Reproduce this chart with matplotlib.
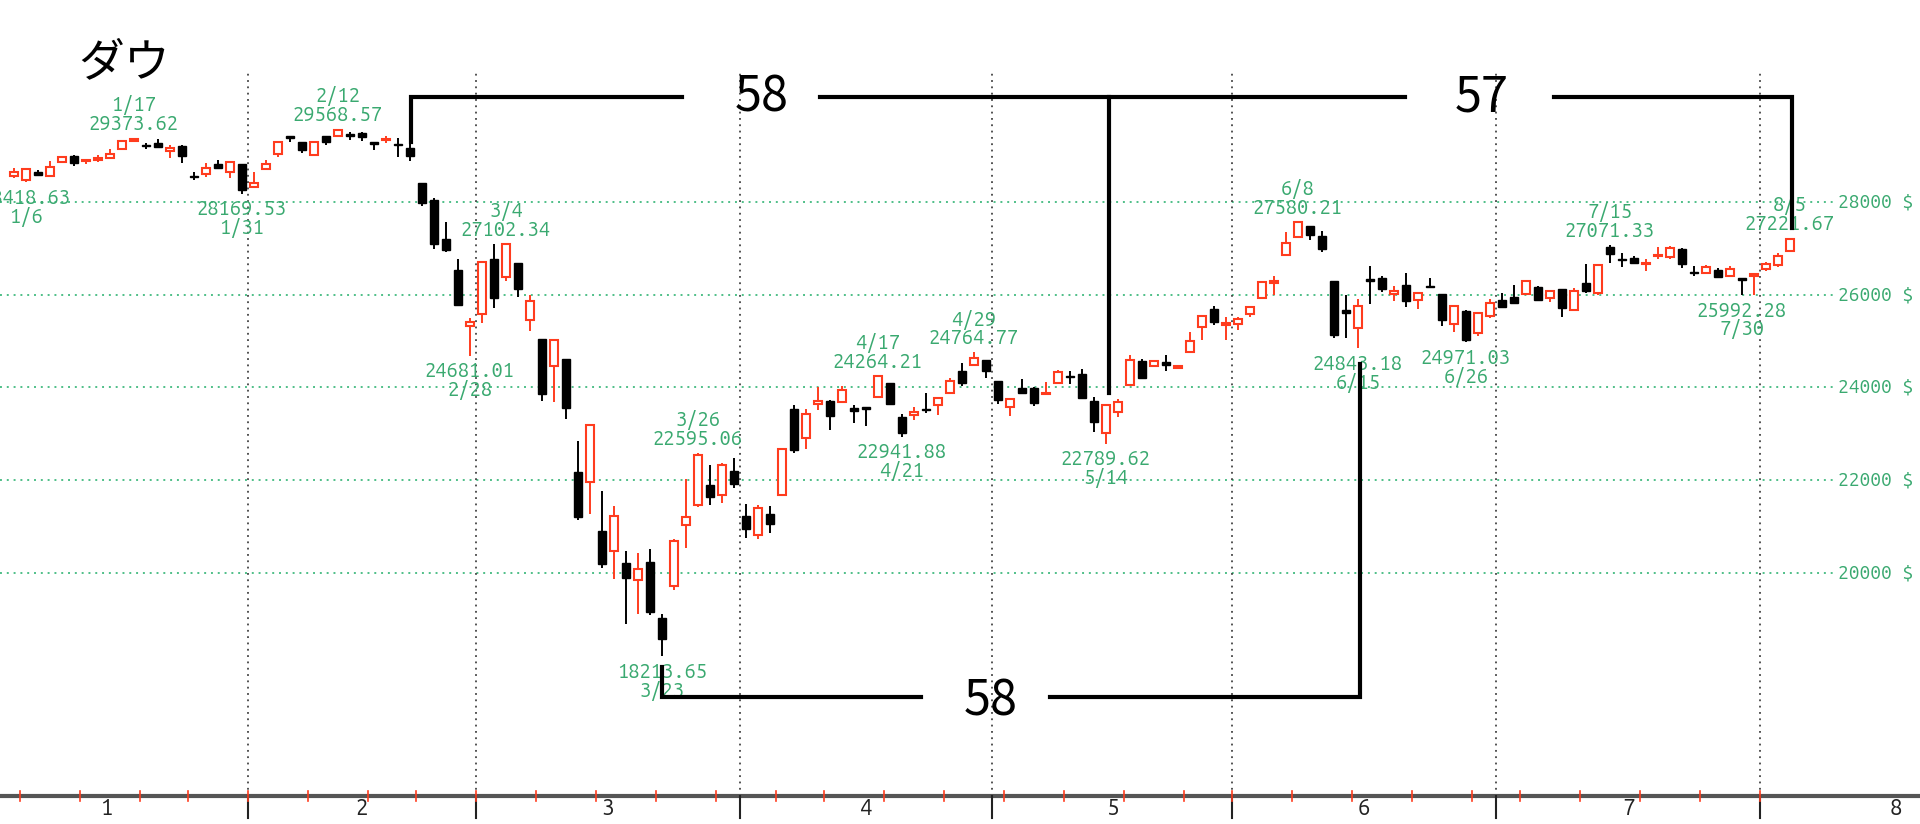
import datetime
import matplotlib
matplotlib.use('Agg')
import matplotlib.pyplot as plt
from matplotlib import font_manager

YEAR = 2020
# ---------------- data ----------------
dates = ['1/3', '1/6', '1/7', '1/8', '1/9', '1/10', '1/13', '1/14', '1/15', '1/16', '1/17', '1/21', '1/22', '1/23', '1/24', '1/27', '1/28', '1/29', '1/30', '1/31',
         '2/3', '2/4', '2/5', '2/6', '2/7', '2/10', '2/11', '2/12', '2/13', '2/14', '2/18', '2/19', '2/20', '2/21', '2/24', '2/25', '2/26', '2/27', '2/28',
         '3/2', '3/3', '3/4', '3/5', '3/6', '3/9', '3/10', '3/11', '3/12', '3/13', '3/16', '3/17', '3/18', '3/19', '3/20', '3/23', '3/24', '3/25', '3/26', '3/27', '3/30', '3/31',
         '4/1', '4/2', '4/3', '4/6', '4/7', '4/8', '4/9', '4/13', '4/14', '4/15', '4/16', '4/17', '4/20', '4/21', '4/22', '4/23', '4/24', '4/27', '4/28', '4/29', '4/30',
         '5/1', '5/4', '5/5', '5/6', '5/7', '5/8', '5/11', '5/12', '5/13', '5/14', '5/15', '5/18', '5/19', '5/20', '5/21', '5/22', '5/26', '5/27', '5/28', '5/29',
         '6/1', '6/2', '6/3', '6/4', '6/5', '6/8', '6/9', '6/10', '6/11', '6/12', '6/15', '6/16', '6/17', '6/18', '6/19', '6/22', '6/23', '6/24', '6/25', '6/26', '6/29', '6/30',
         '7/1', '7/2', '7/6', '7/7', '7/8', '7/9', '7/10', '7/13', '7/14', '7/15', '7/16', '7/17', '7/20', '7/21', '7/22', '7/23', '7/24', '7/27', '7/28', '7/29', '7/30', '7/31',
         '8/3', '8/4', '8/5']

opens = [28553, 28465, 28639, 28556, 28851, 28977, 28867, 28893, 28935, 29131, 29313, 29230, 29263, 29101, 29201, 28542, 28594, 28820, 28640, 28813,
         28319, 28697, 29020, 29385, 29286, 29007, 29414, 29405, 29465, 29470, 29282, 29320, 29251, 29146, 28403, 28041, 27188, 26539, 25320,
         25590, 26762, 26383, 26671, 25457, 25046, 24453, 24604, 22184, 21973, 20917, 20477, 20229, 19860, 20253, 19028, 19722, 21050, 21468, 21898, 21678, 22208,
         21227, 20819, 21285, 21693, 23534, 22907, 23640, 23717, 23686, 23560, 23580, 23796, 24094, 23370, 23410, 23545, 23620, 23883, 24362, 24485, 24592,
         24147, 23587, 23980, 23983, 23850, 24104, 24250, 24291, 23716, 23027, 23466, 24050, 24579, 24463, 24555, 24420, 24773, 25310, 25690, 25340,
         25370, 25580, 25921, 26250, 26853, 27234, 27476, 27262, 26300, 25659, 25275, 26330, 26352, 26007, 26207, 25884, 26171, 26013, 25367, 25654, 25167, 25539,
         25884, 25955, 26013, 26171, 25934, 26114, 25669, 26243, 26028, 27019, 26760, 26782, 26665, 26830, 26816, 26976, 26494, 26459, 26530, 26401, 26352, 26410,
         26545, 26638, 26946]
highs = [28716, 28708, 28685, 28866, 28988, 29009, 28910, 28997, 29127, 29300, 29374, 29256, 29346, 29218, 29218, 28630, 28825, 28892, 28879, 28813,
         28630, 28897, 29304, 29409, 29286, 29277, 29415, 29569, 29500, 29505, 29283, 29409, 29370, 29280, 28403, 28076, 27555, 26760, 25494,
         26706, 27084, 27102, 26671, 25994, 25047, 25020, 24604, 22837, 23189, 21779, 21443, 20489, 20440, 20531, 19121, 20737, 22019, 22595, 22327, 22378, 22480,
         21490, 21477, 21447, 22702, 23623, 23531, 24008, 23740, 24030, 23620, 23590, 24264, 24094, 23420, 23570, 23887, 23794, 24214, 24533, 24765, 24600,
         24147, 23760, 24180, 24020, 24110, 24371, 24362, 24392, 23800, 23627, 23746, 24700, 24605, 24600, 24700, 24480, 25199, 25560, 25755, 25525,
         25520, 25750, 26300, 26400, 27338, 27580, 27476, 27376, 26300, 25992, 25900, 26616, 26400, 26180, 26472, 26050, 26350, 26020, 25770, 25670, 25620, 25904,
         26028, 26207, 26300, 26180, 26080, 26130, 26136, 26659, 26668, 27071, 26890, 26830, 26760, 27032, 27047, 27000, 26616, 26640, 26580, 26620, 26360, 26450,
         26709, 26890, 27222]
lows = [28500, 28419, 28565, 28522, 28844, 28772, 28808, 28865, 28935, 29131, 29289, 29134, 29186, 28945, 28843, 28460, 28540, 28706, 28502, 28170,
        28319, 28697, 28966, 29287, 29056, 28985, 29222, 29405, 29320, 29304, 29116, 29264, 28968, 28880, 27912, 26978, 26915, 25766, 24681,
        25391, 25706, 26288, 25943, 25226, 23706, 23690, 23328, 21154, 21285, 20116, 19882, 18917, 19122, 19094, 18214, 19649, 20538, 21427, 21469, 21522, 21843,
        20766, 20735, 20863, 21693, 22600, 22670, 23516, 23095, 23678, 23229, 23180, 23796, 23630, 22942, 23300, 23456, 23408, 23857, 24033, 24460, 24198,
        23645, 23390, 23850, 23600, 23840, 24100, 24075, 23760, 23049, 22790, 23361, 24050, 24190, 24463, 24362, 24400, 24773, 25020, 25350, 25023,
        25230, 25520, 25900, 26000, 26853, 27234, 27175, 26924, 25060, 25059, 24843, 25798, 26050, 25860, 25740, 25700, 26150, 25320, 25202, 24971, 25100, 25500,
        25720, 25810, 26000, 25880, 25850, 25524, 25660, 26041, 26000, 26687, 26588, 26650, 26515, 26760, 26767, 26580, 26402, 26450, 26370, 26390, 25992, 26000,
        26515, 26588, 26930]
closes = [28635, 28703, 28584, 28745, 28957, 28824, 28907, 28940, 29030, 29298, 29348, 29196, 29186, 29160, 28990, 28536, 28723, 28734, 28859, 28256,
          28400, 28808, 29291, 29380, 29103, 29277, 29276, 29551, 29423, 29398, 29232, 29348, 29220, 28992, 27961, 27081, 26958, 25767, 25409,
          26703, 25917, 27091, 26121, 25865, 23851, 25018, 23553, 21201, 23186, 20189, 21237, 19899, 20087, 19174, 18592, 20705, 21201, 22552, 21637, 22327, 21917,
          20944, 21413, 21053, 22680, 22654, 23434, 23719, 23391, 23950, 23504, 23538, 24242, 23650, 23019, 23476, 23515, 23775, 24134, 24102, 24634, 24346,
          23724, 23750, 23883, 23665, 23876, 24331, 24222, 23765, 23248, 23625, 23685, 24597, 24207, 24576, 24474, 24465, 24995, 25548, 25401, 25383,
          25475, 25743, 26270, 26282, 27111, 27572, 27272, 26990, 25128, 25606, 25763, 26290, 26120, 26080, 25871, 26025, 26156, 25446, 25746, 25016, 25596, 25813,
          25735, 25827, 26287, 25890, 26067, 25706, 26075, 26086, 26643, 26870, 26735, 26672, 26681, 26840, 27006, 26652, 26470, 26585, 26379, 26540, 26314, 26428,
          26664, 26828, 27202]

high_mark_dates = ['1/17', '2/12', '3/4', '3/26', '4/17', '4/29', '6/8', '7/15', '8/5']
high_mark_values = ['29373.62', '29568.57', '27102.34', '22595.06', '24264.21', '24764.77', '27580.21', '27071.33', '27221.67']
low_mark_dates = ['1/6', '1/31', '2/28', '3/23', '4/21', '5/14', '6/15', '6/26', '7/30']
low_mark_values = ['28418.63', '28169.53', '24681.01', '18213.65', '22941.88', '22789.62', '24843.18', '24971.03', '25992.28']

price_ticks = [20000, 22000, 24000, 26000, 28000]
month_labels = ['1', '2', '3', '4', '5', '6', '7', '8']
month_label_pos = [7.8, 29, 49.5, 71, 91.5, 112.5, 134.5, 156.8]
title = 'ダウ'

# trading-day count annotations
top_counts = ['58', '57']
bottom_counts = ['58']

# ---------------- layout / style ----------------
W, H = 1920, 824
AX_BOTTOM_PX = 796
XLIM = (-14 / 12, (W - 14) / 12)
YLIM = (15205, 32342)

RED = '#ff3c1e'
GREEN = '#3aa970'
GRID_GREEN = '#4fbf88'

avail = {f.name for f in font_manager.fontManager.ttflist}
if 'Ubuntu Mono' in avail:
    LAB_FONT, LAB_SIZE, AX_SIZE, MON_SIZE, LSP = 'Ubuntu Mono', 14.5, 13.8, 16, 0.93
elif 'Archivo Narrow' in avail:
    LAB_FONT, LAB_SIZE, AX_SIZE, MON_SIZE, LSP = 'Archivo Narrow', 15, 14.5, 15, 0.95
elif 'Barlow Condensed' in avail:
    LAB_FONT, LAB_SIZE, AX_SIZE, MON_SIZE, LSP = 'Barlow Condensed', 17, 16.5, 16, 0.95
else:
    LAB_FONT, LAB_SIZE, AX_SIZE, MON_SIZE, LSP = 'DejaVu Sans Mono', 13, 12.5, 14, 1.0
LAB_FAMILY = [LAB_FONT, 'DejaVu Sans']
NUM_FONT = ['Noto Sans CJK JP', 'DejaVu Sans']

fig = plt.figure(figsize=(W / 100, H / 100), dpi=100)
fig.patch.set_facecolor('white')
ax = fig.add_axes([0, (H - AX_BOTTOM_PX) / H, 1, AX_BOTTOM_PX / H])
ax.set_xlim(*XLIM)
ax.set_ylim(*YLIM)
ax.set_xticks([])
ax.set_yticks([])
for s in ['top', 'left', 'right']:
    ax.spines[s].set_visible(False)
ax.spines['bottom'].set_linewidth(3)
ax.spines['bottom'].set_color('#555555')

n = len(dates)
xs = list(range(n))
md = [tuple(int(v) for v in d.split('/')) for d in dates]
wd = [datetime.date(YEAR, m, d).weekday() for m, d in md]

# gridlines
dot = (0, (1, 2.5))
ax.hlines(price_ticks, XLIM[0], (1833 - 14) / 12, colors=GRID_GREEN, linestyles=[dot], lw=1.4, zorder=1)
for p in price_ticks:
    ax.text((1838 - 14) / 12, p, f'{p} $', color=GREEN, fontsize=AX_SIZE, family=LAB_FAMILY,
            ha='left', va='center', zorder=2)

xt = ax.get_xaxis_transform()
month_starts = [i for i in range(1, n) if md[i][0] != md[i - 1][0]]
week_starts = [i for i in range(1, n) if wd[i] < wd[i - 1]]
for i in month_starts:
    ax.plot([i - 0.5, i - 0.5], [0, (AX_BOTTOM_PX - 73) / AX_BOTTOM_PX], transform=xt, color='#444444',
            lw=1.3, linestyle=dot, zorder=1)
    ax.plot([i - 0.5, i - 0.5], [0, -0.028], transform=xt, color='#222222', lw=1.5, clip_on=False, zorder=3)
for i in week_starts:
    ax.plot([i - 0.5, i - 0.5], [-0.006, 0.006], transform=xt, color=RED, lw=1.2, clip_on=False, zorder=4)
for lab, pos in zip(month_labels, month_label_pos):
    ax.text(pos, -0.0163, lab, transform=xt, ha='center', va='center', fontsize=MON_SIZE,
            family=LAB_FAMILY, color='#222222', clip_on=False)

# candles
for i in xs:
    o, h, l, c = opens[i], highs[i], lows[i], closes[i]
    up = c >= o
    col = RED if up else 'black'
    ax.vlines(i, l, h, colors=col, lw=1.4, zorder=5)
    lo = min(o, c)
    hgt = max(abs(c - o), 25)
    if up:
        ax.bar(i, hgt, bottom=lo, width=0.66, facecolor='white', edgecolor=RED, linewidth=1.5, zorder=6)
    else:
        ax.bar(i, hgt, bottom=lo, width=0.7, facecolor='black', edgecolor='black', linewidth=1.0, zorder=6)

# high / low marks (date + value, two stacked lines)
lab_kw = dict(textcoords='offset pixels', ha='center', va='center', multialignment='center', color=GREEN,
              fontsize=LAB_SIZE, family=LAB_FAMILY, linespacing=LSP, zorder=7)
for d, v in zip(high_mark_dates, high_mark_values):
    i = dates.index(d)
    ax.annotate(f'{d}\n{v}', (i, highs[i]), xytext=(0, 23), **lab_kw)
for d, v in zip(low_mark_dates, low_mark_values):
    i = dates.index(d)
    ax.annotate(f'{v}\n{d}', (i, lows[i]), xytext=(0, -25), **lab_kw)

# title
fig.text(78 / W, 1 - 63 / H, title, family=NUM_FONT, fontsize=33,
         ha='left', va='center', color='black')

# count annotations
ann_kw = dict(color='black', lw=3.0, solid_capstyle='projecting', zorder=9, clip_on=False)
top_y = 30261
ax.plot([33.05, 33.05, 55.7], [29290, top_y, top_y], solid_joinstyle='miter', **ann_kw)
ax.plot([67.2, 115.9], [top_y, top_y], **ann_kw)
ax.plot([128.3, 148.2, 148.2], [top_y, top_y, 27434], solid_joinstyle='miter', **ann_kw)
ax.plot([91.25, 91.25], [top_y, 23882], **ann_kw)
ax.text(62.3, 30230, top_counts[0], fontsize=35, family=NUM_FONT, ha='center', va='center', zorder=9)
ax.text(122.3, 30230, top_counts[1], fontsize=35, family=NUM_FONT, ha='center', va='center', zorder=9)

bot_y = 17337
ax.plot([54.0, 54.0, 75.6], [17983, bot_y, bot_y], solid_joinstyle='miter', **ann_kw)
ax.plot([86.3, 112.2, 112.2], [bot_y, bot_y, 24506], solid_joinstyle='miter', **ann_kw)
ax.text(81.4, 17230, bottom_counts[0], fontsize=35, family=NUM_FONT, ha='center', va='center', zorder=9)

fig.savefig('out.png', dpi=100, facecolor='white')
